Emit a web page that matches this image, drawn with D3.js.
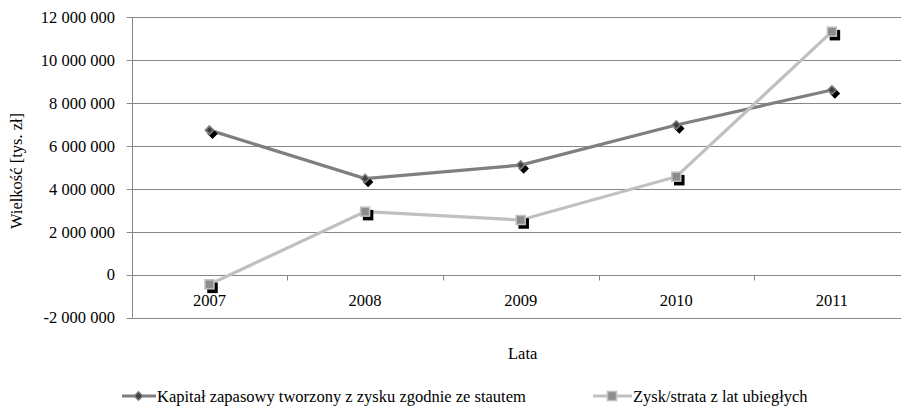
<!DOCTYPE html>
<html>
<head>
<meta charset="utf-8">
<script src="https://cdn.jsdelivr.net/npm/d3@7"></script>
<style>
  html, body { margin: 0; padding: 0; background: #fff; }
  svg { display: block; }
</style>
</head>
<body>
<svg id="chart" width="901" height="408"></svg>
<script>
// Years on the category axis
const years = ["2007", "2008", "2009", "2010", "2011"];
// Kapitał zapasowy tworzony z zysku zgodnie ze stautem [tys. zł]
const kapital = [6740000, 4480000, 5110000, 6980000, 8610000];
// Zysk/strata z lat ubiegłych [tys. zł]
const zysk = [-450000, 2940000, 2550000, 4570000, 11330000];
// Value axis ticks
const yTicks = [-2000000, 0, 2000000, 4000000, 6000000, 8000000, 10000000, 12000000];
const seriesNames = ["Kapitał zapasowy tworzony z zysku zgodnie ze stautem", "Zysk/strata z lat ubiegłych"];

(function () {
const svg = d3.select("#chart");
const plotLeft = 131.7, plotRight = 909.7, plotTop = 17.3, plotBottom = 317.6;

const x = d3.scaleBand().domain(years).range([plotLeft, plotRight]);
const y = d3.scaleLinear().domain([-2000000, 12000000]).range([plotBottom, plotTop]);

const fmt = v => d3.format(",")(v).replace(/,/g, " ").replace("−", "-");
const gridColor = "#868686";
const fontSize = 16.5;
const fontFam = '"Liberation Serif"';

const label = sel => sel.attr("font-size", fontSize).attr("fill", "#000")
  .style("font-family", fontFam);

// horizontal gridlines with short ticks left of the axis
svg.append("g").selectAll("line").data(yTicks).join("line")
  .attr("x1", plotLeft - 5).attr("x2", plotRight)
  .attr("y1", d => Math.round(y(d)) + 0.5).attr("y2", d => Math.round(y(d)) + 0.5)
  .attr("stroke", gridColor).attr("stroke-width", 1);

// value axis line
svg.append("line")
  .attr("x1", Math.round(plotLeft) + 0.5).attr("x2", Math.round(plotLeft) + 0.5)
  .attr("y1", y(12000000)).attr("y2", y(-2000000))
  .attr("stroke", gridColor).attr("stroke-width", 1);

// value labels
svg.append("g").selectAll("text").data(yTicks).join("text")
  .attr("x", 115).attr("y", d => y(d)).attr("dy", "0.35em")
  .attr("text-anchor", "end").call(label)
  .text(d => fmt(d));

// category axis drawn at zero, ticks between categories
const zeroY = Math.round(y(0)) + 0.5;
const boundaries = years.map(d => x(d)).concat([plotRight]);
svg.append("g").selectAll("line").data(boundaries).join("line")
  .attr("x1", d => Math.round(d) + 0.5).attr("x2", d => Math.round(d) + 0.5)
  .attr("y1", zeroY).attr("y2", zeroY + 5)
  .attr("stroke", gridColor);

svg.append("g").selectAll("text").data(years).join("text")
  .attr("x", d => x(d) + x.bandwidth() / 2).attr("y", 300).attr("dy", "0.35em")
  .attr("text-anchor", "middle").call(label)
  .text(d => d);

// axis titles
svg.append("text").attr("x", (plotLeft + plotRight) / 2 + 2).attr("y", 353).attr("dy", "0.35em")
  .attr("text-anchor", "middle").call(label)
  .text("Lata");
svg.append("text").attr("transform", "translate(16,171) rotate(-90)").attr("dy", "0.35em")
  .attr("text-anchor", "middle").call(label)
  .text("Wielkość [tys. zł]");

const cx = (d, i) => x(years[i]) + x.bandwidth() / 2;
const line = d3.line().x((d, i) => cx(d, i)).y(d => y(d));

const diamond = d3.symbol().type(d3.symbolDiamond2).size(45);

function drawDiamonds(g, vals, dx, dy, fill, stroke) {
  g.selectAll(null).data(vals).join("path")
    .attr("d", diamond)
    .attr("transform", (d, i) => `translate(${cx(d, i) + dx},${y(d) + dy})`)
    .attr("fill", fill).attr("stroke", stroke).attr("stroke-width", 1.5);
}
function drawSquares(g, vals, dx, dy, fill, stroke) {
  g.selectAll(null).data(vals).join("rect")
    .attr("x", (d, i) => cx(d, i) + dx - 4.5).attr("y", d => y(d) + dy - 4.5)
    .attr("width", 9).attr("height", 9)
    .attr("fill", fill).attr("stroke", stroke).attr("stroke-width", 1.5);
}

// series 1: dark gray line, diamonds
const g1 = svg.append("g");
g1.append("path").datum(kapital).attr("d", line)
  .attr("fill", "none").attr("stroke", "#7f7f7f").attr("stroke-width", 3.2);
drawDiamonds(g1, kapital, 3, 3.5, "#000", "#000");
drawDiamonds(g1, kapital, 0, 0, "#404040", "#7f7f7f");

// series 2: light gray line, squares
const g2 = svg.append("g");
g2.append("path").datum(zysk).attr("d", line)
  .attr("fill", "none").attr("stroke", "#c0c0c0").attr("stroke-width", 3.2);
drawSquares(g2, zysk, 3, 3.5, "#000", "#000");
drawSquares(g2, zysk, 0, 0, "#8c8c8c", "#c0c0c0");

// legend
const legY = 396;
const leg = svg.append("g");
leg.append("line").attr("x1", 122).attr("x2", 156).attr("y1", legY).attr("y2", legY)
  .attr("stroke", "#7f7f7f").attr("stroke-width", 3.2);
leg.append("path").attr("d", diamond).attr("transform", `translate(138.5,${legY})`)
  .attr("fill", "#404040").attr("stroke", "#7f7f7f").attr("stroke-width", 1.5);
leg.append("text").attr("x", 157).attr("y", legY).attr("dy", "0.35em")
  .call(label).text(seriesNames[0]);

leg.append("line").attr("x1", 593).attr("x2", 632).attr("y1", legY).attr("y2", legY)
  .attr("stroke", "#c0c0c0").attr("stroke-width", 3.2);
leg.append("rect").attr("x", 612 - 4.5).attr("y", legY - 4.5).attr("width", 9).attr("height", 9)
  .attr("fill", "#8c8c8c").attr("stroke", "#c0c0c0").attr("stroke-width", 1.5);
leg.append("text").attr("x", 633).attr("y", legY).attr("dy", "0.35em")
  .call(label).text(seriesNames[1]);
})();
</script>
</body>
</html>
